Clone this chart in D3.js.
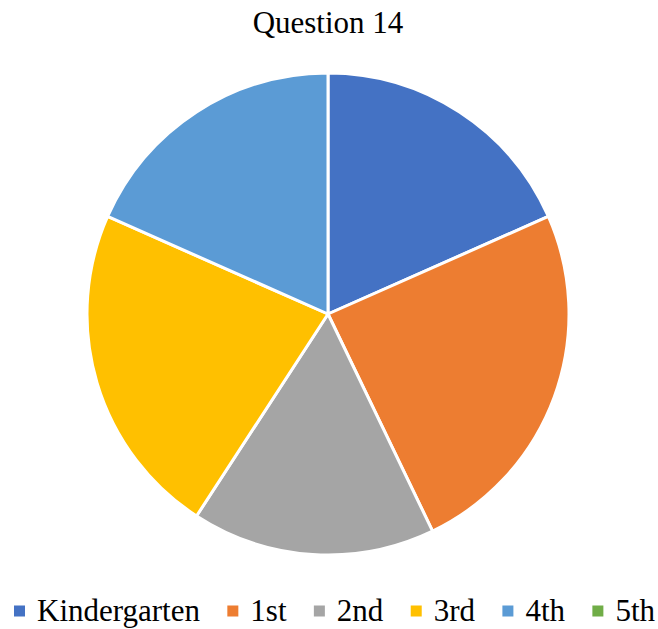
<!DOCTYPE html>
<html>
<head>
<meta charset="utf-8">
<script src="https://cdn.jsdelivr.net/npm/d3@7"></script>
<style>
  html, body { margin: 0; padding: 0; background: #fff; }
  svg { display: block; }
</style>
</head>
<body>
<svg id="chart" width="658" height="629"></svg>
<script>
// Responses per grade level
const categories = ["Kindergarten", "1st", "2nd", "3rd", "4th", "5th"];
const values = [9, 12, 8, 11, 9, 0];
const colors = ["#4472C4", "#ED7D31", "#A5A5A5", "#FFC000", "#5B9BD5", "#70AD47"];
const title = "Question 14";

// Pick the first installed serif face
function pickFont(list) {
  const ctx = document.createElement("canvas").getContext("2d");
  const probe = "Kindergarten Question 14 mmwwiil";
  ctx.font = "40px monospace";
  const base = ctx.measureText(probe).width;
  for (const f of list) {
    ctx.font = `40px "${f}", monospace`;
    if (Math.abs(ctx.measureText(probe).width - base) > 0.5) return `"${f}"`;
  }
  return "serif";
}
const font = pickFont(["Liberation Serif", "Times New Roman", "Tinos", "Times", "DejaVu Serif", "Noto Serif", "FreeSerif"]) + ", serif";

const svg = d3.select("#chart");
const W = 658;

svg.append("text")
  .attr("x", 328).attr("y", 33)
  .attr("text-anchor", "middle")
  .style("font-family", font)
  .attr("font-size", 31)
  .attr("fill", "#000")
  .text(title);

const cx = 328, cy = 314, r = 241;
const data = categories.map((c, i) => ({ name: c, value: values[i], color: colors[i] }));

const pie = d3.pie().value(d => d.value).sort(null);
const arc = d3.arc().innerRadius(0).outerRadius(r);

svg.append("g")
  .attr("transform", `translate(${cx},${cy})`)
  .selectAll("path")
  .data(pie(data).filter(d => d.data.value > 0))
  .join("path")
  .attr("d", arc)
  .attr("fill", d => d.data.color)
  .attr("stroke", "#fff")
  .attr("stroke-width", 3)
  .attr("stroke-linejoin", "round");

// Legend row along the bottom, spread between the left and right margins
const legend = svg.append("g").attr("transform", "translate(0,611)");
const sq = 11, textGap = 12, left = 14, right = 655;
const groups = data.map(d => {
  const g = legend.append("g");
  g.append("rect")
    .attr("y", -sq / 2).attr("width", sq).attr("height", sq)
    .attr("fill", d.color);
  const t = g.append("text")
    .attr("x", sq + textGap)
    .attr("y", 10)
    .style("font-family", font)
    .attr("font-size", 31)
    .attr("fill", "#000")
    .text(d.name);
  return { g, w: sq + textGap + t.node().getComputedTextLength() };
});
const sumW = d3.sum(groups, d => d.w);
const gap = Math.min(29, (right - left - sumW) / (groups.length - 1));
const totalW = sumW + gap * (groups.length - 1);
let x = left + (right - left - totalW) / 2;
groups.forEach(d => {
  d.g.attr("transform", `translate(${x},0)`);
  x += d.w + gap;
});
</script>
</body>
</html>
